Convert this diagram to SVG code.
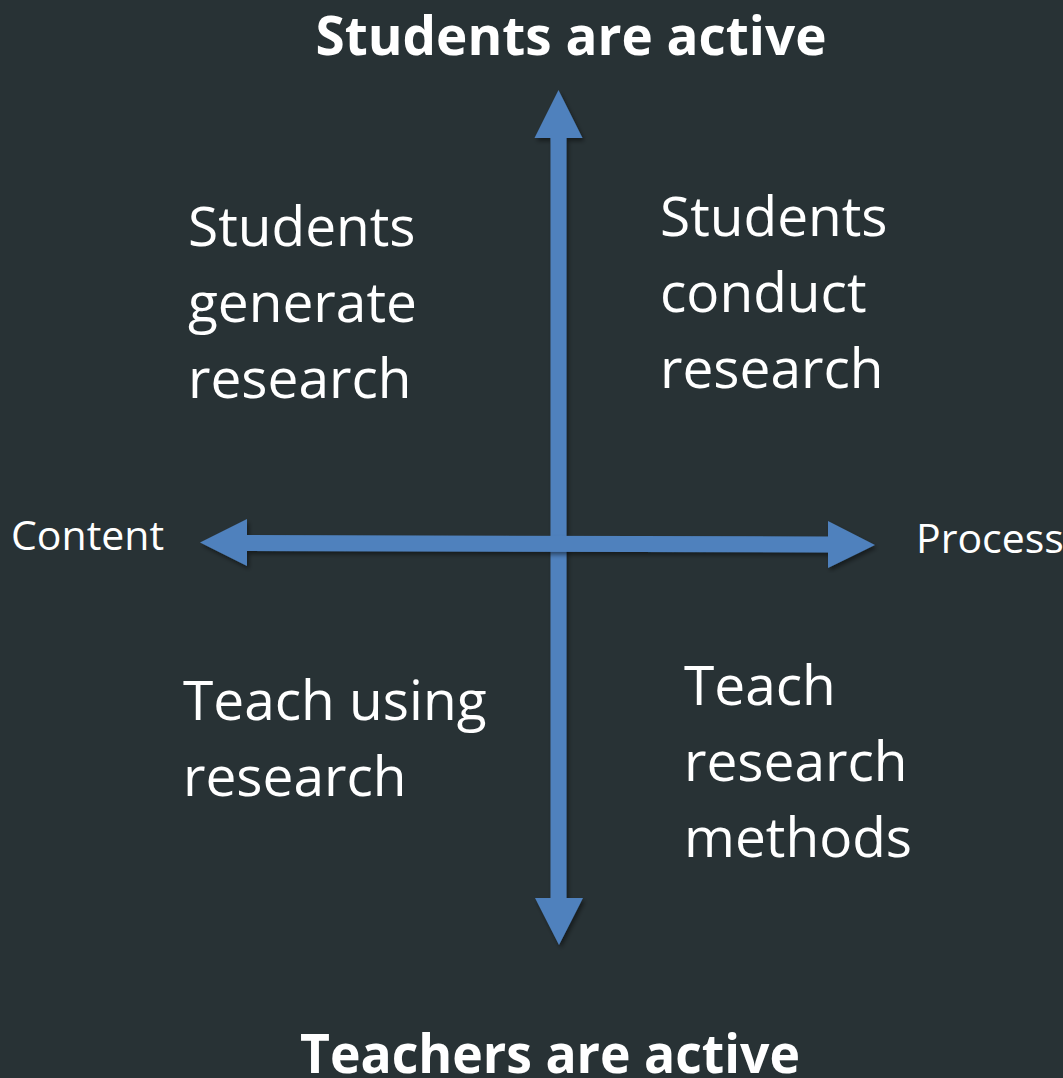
<svg xmlns="http://www.w3.org/2000/svg" width="1063" height="1078" viewBox="0 0 1063 1078">
  <defs>
    <filter id="shadow" x="-10%" y="-10%" width="120%" height="120%">
      <feDropShadow dx="2" dy="3" stdDeviation="2" flood-color="#000000" flood-opacity="0.45"/>
    </filter>
  </defs>
  <style>
    .title { font-family: "Open Sans", "Noto Sans", sans-serif; font-weight: bold; font-size: 53px; fill: #ffffff; }
    .body { font-family: "Open Sans", "Noto Sans", sans-serif; font-size: 55px; fill: #ffffff; }
    .axis { font-family: "Open Sans", "Noto Sans", sans-serif; font-size: 41px; fill: #ffffff; }
    .arrow { fill: #4f81bd; filter: url(#shadow); }
  </style>
  <rect x="0" y="0" width="1063" height="1078" fill="#283235"/>

  <g id="connectors">
    <path id="vertical-axis" class="arrow" d="M558.5,90 L582.5,138 L566.5,138 L566.5,898 L583,898 L559,945 L535,898 L550.5,898 L550.5,138 L534.5,138 Z"/>
    <path id="horizontal-axis" class="arrow" d="M200,542.5 L247,519 L247,535 L828,536.5 L828,521 L875,545 L828,568 L828,552.5 L247,551 L247,566 Z"/>
  </g>

  <g id="top-label"><text class="title" x="571" y="55" text-anchor="middle">Students are active</text></g>
  <g id="bottom-label"><text class="title" x="550" y="1073" text-anchor="middle" textLength="500" lengthAdjust="spacingAndGlyphs">Teachers are active</text></g>
  <g id="left-label"><text class="axis" x="11" y="550">Content</text></g>
  <g id="right-label"><text class="axis" x="916" y="553">Process</text></g>

  <g id="q-top-left">
    <text class="body" x="188" y="246">Students</text>
    <text class="body" x="188" y="322">generate</text>
    <text class="body" x="188" y="398">research</text>
  </g>
  <g id="q-top-right">
    <text class="body" x="660" y="236">Students</text>
    <text class="body" x="660" y="312">conduct</text>
    <text class="body" x="660" y="388">research</text>
  </g>
  <g id="q-bottom-left">
    <text class="body" x="183" y="720">Teach using</text>
    <text class="body" x="183" y="796">research</text>
  </g>
  <g id="q-bottom-right">
    <text class="body" x="684" y="705">Teach</text>
    <text class="body" x="684" y="781">research</text>
    <text class="body" x="684" y="857">methods</text>
  </g>
</svg>
